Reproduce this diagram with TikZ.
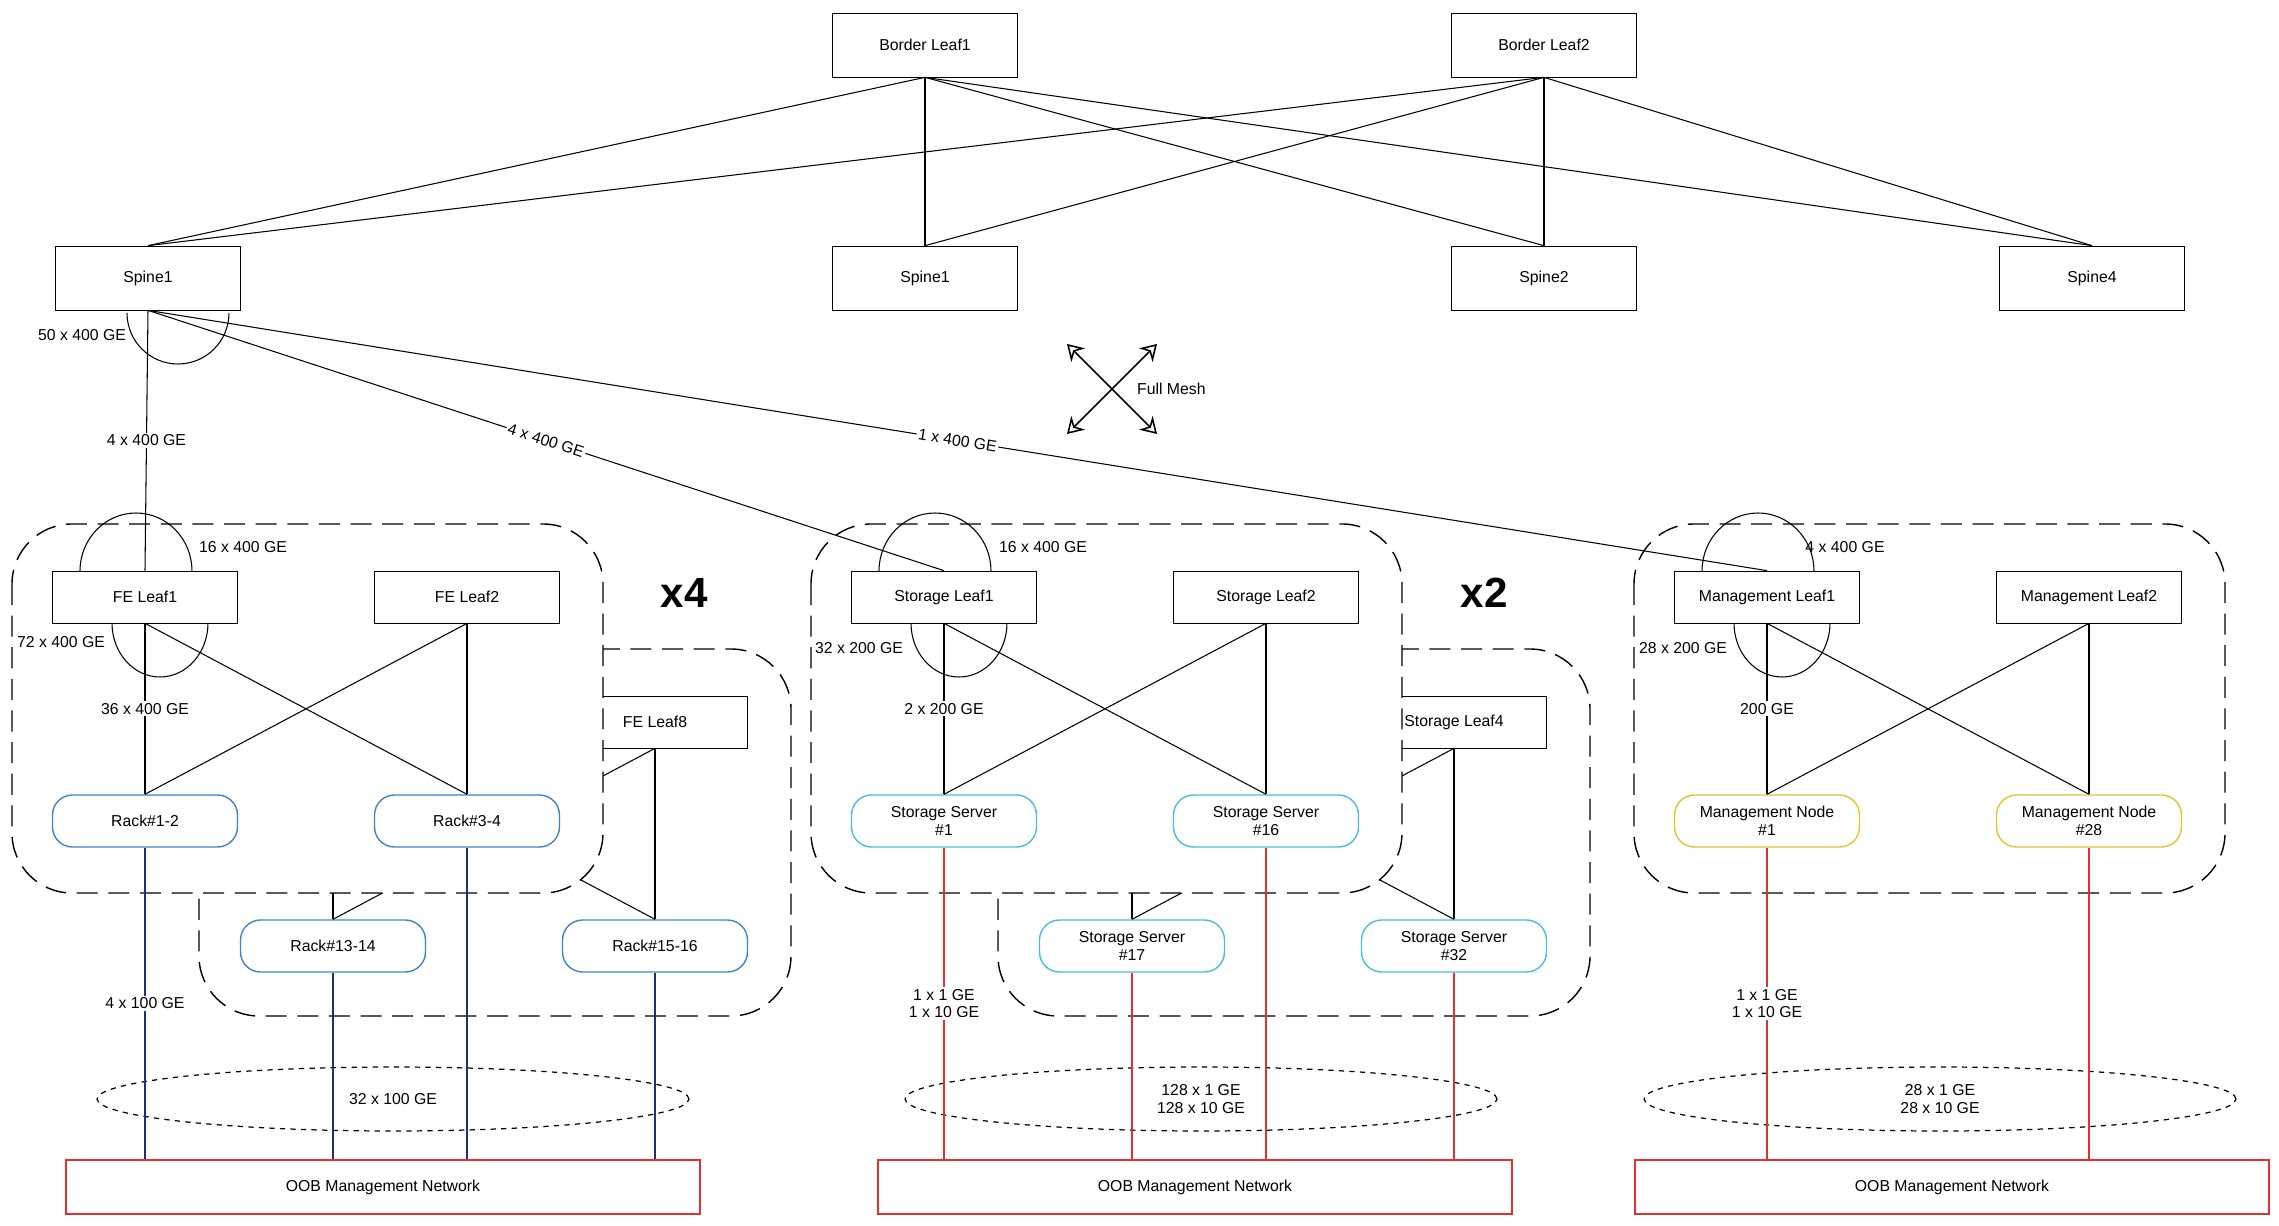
\documentclass[tikz,border=0pt]{standalone}
\usepackage{fontspec}
\setmainfont{Liberation Sans}
\usetikzlibrary{shapes,arrows.meta,positioning,calc}
\definecolor{rackblue}{RGB}{61,133,198}
\definecolor{storcyan}{RGB}{72,190,220}
\definecolor{mgmtyellow}{RGB}{230,194,50}
\definecolor{oobred}{RGB}{224,48,48}
\definecolor{navy}{RGB}{30,50,110}
\tikzset{
  switch/.style={draw,rectangle,minimum width=3.7cm,minimum height=1.04cm,font=\fontsize{9}{11}\selectfont},
  bigswitch/.style={switch,minimum height=1.28cm},
  host/.style={draw,rectangle,rounded corners=0.4cm,minimum width=3.7cm,minimum height=1.04cm,align=center,font=\fontsize{9}{10}\selectfont,line width=0.8pt},
  rack/.style={host,draw=rackblue},
  stor/.style={host,draw=storcyan},
  mgmt/.style={host,draw=mgmtyellow},
  oob/.style={draw=oobred,rectangle,minimum width=12.68cm,minimum height=1.08cm,font=\fontsize{9}{11}\selectfont,line width=0.8pt},
  group/.style={draw,dashed,dash pattern=on 12pt off 6pt,rounded corners=1.2cm,line width=0.8pt},
  lbl/.style={font=\fontsize{9}{10}\selectfont,align=center,inner sep=1pt,text=black},
  onl/.style={lbl,fill=white},
  mult/.style={font=\fontsize{24}{28}\selectfont\bfseries},
  link/.style={line width=0.6pt},
  blue link/.style={navy,line width=0.7pt},
  red link/.style={oobred,line width=0.7pt},
}
\begin{document}
\begin{tikzpicture}[x=0.02cm,y=-0.02cm]
\useasboundingbox (0,0) rectangle (2279,1226);

% Border and spine layer
\node[bigswitch] (bl1) at (925,45) {Border Leaf1};
\node[bigswitch] (bl2) at (1544,45) {Border Leaf2};
\node[bigswitch] (sp1) at (148,278) {Spine1};
\node[bigswitch] (sp1b) at (925,278) {Spine1};
\node[bigswitch] (sp2) at (1544,278) {Spine2};
\node[bigswitch] (sp4) at (2092,278) {Spine4};
\foreach \b in {bl1,bl2}
  \foreach \s in {sp1,sp1b,sp2,sp4}
    \draw[link] (\b.south) -- (\s.north);
\draw[link] (127,313) arc[start angle=180,end angle=360,x radius=1.02cm,y radius=1.02cm];
\node[lbl] at (82,335) {50 x 400 GE};

% Full mesh
\coordinate (m1) at (1067,344);
\coordinate (m2) at (1157,434);
\coordinate (m3) at (1157,344);
\coordinate (m4) at (1067,434);
\draw[line width=0.9pt,{Stealth[open,length=9pt,width=11pt]}-{Stealth[open,length=9pt,width=11pt]}] (m1) -- (m2);
\draw[line width=0.9pt,{Stealth[open,length=9pt,width=11pt]}-{Stealth[open,length=9pt,width=11pt]}] (m3) -- (m4);
\node[lbl,anchor=west] at (1135,389) {Full Mesh};

% FE group (back copy)
\draw[group] (199,649) rectangle (791,1016);
\node[switch] (fe7) at (333,722) {FE Leaf7};
\node[switch] (fe8) at (655,722) {FE Leaf8};
\node[rack] (r13) at (333,946) {Rack\#13-14};
\node[rack] (r15) at (655,946) {Rack\#15-16};
\foreach \l in {fe7,fe8}
  \foreach \r in {r13,r15}
    \draw[link] (\l.south) -- (\r.north);

% Storage group (back copy)
\draw[group] (998,649) rectangle (1590,1016);
\node[switch] (st3) at (1132,722) {Storage Leaf3};
\node[switch] (st4) at (1454,722) {Storage Leaf4};
\node[stor] (ss17) at (1132,946) {Storage Server\\\#17};
\node[stor] (ss32) at (1454,946) {Storage Server\\\#32};
\foreach \l in {st3,st4}
  \foreach \r in {ss17,ss32}
    \draw[link] (\l.south) -- (\r.north);

% front group frames
\draw[group,fill=white] (12,524) rectangle (603,893);
\draw[group,fill=white] (811,524) rectangle (1402,893);
\draw[group,fill=white] (1634,524) rectangle (2225,893);

% FE group
\node[switch] (fe1) at (145,597) {FE Leaf1};
\node[switch] (fe2) at (467,597) {FE Leaf2};
\node[rack] (r1) at (145,821) {Rack\#1-2};
\node[rack] (r3) at (467,821) {Rack\#3-4};
\draw[link] (fe1.south) -- node[onl] {36 x 400 GE} (r1.north);
\draw[link] (fe1.south) -- (r3.north);
\draw[link] (fe2.south) -- (r1.north);
\draw[link] (fe2.south) -- (r3.north);
\draw[link] (80,571) arc[start angle=180,end angle=0,x radius=1.12cm,y radius=1.16cm];
\draw[link] (112,623) arc[start angle=180,end angle=360,x radius=0.96cm,y radius=1.08cm];
\node[lbl] at (243,547) {16 x 400 GE};
\node[lbl] at (61,642) {72 x 400 GE};
\node[mult] at (684,593) {x4};

% Storage group
\node[switch] (st1) at (944,597) {Storage Leaf1};
\node[switch] (st2) at (1266,597) {Storage Leaf2};
\node[stor] (ss1) at (944,821) {Storage Server\\\#1};
\node[stor] (ss16) at (1266,821) {Storage Server\\\#16};
\draw[link] (st1.south) -- node[onl] {2 x 200 GE} (ss1.north);
\draw[link] (st1.south) -- (ss16.north);
\draw[link] (st2.south) -- (ss1.north);
\draw[link] (st2.south) -- (ss16.north);
\draw[link] (879,571) arc[start angle=180,end angle=0,x radius=1.12cm,y radius=1.16cm];
\draw[link] (911,623) arc[start angle=180,end angle=360,x radius=0.96cm,y radius=1.08cm];
\node[lbl] at (1043,547) {16 x 400 GE};
\node[lbl] at (859,648) {32 x 200 GE};
\node[mult] at (1484,593) {x2};

% Management group
\node[switch] (ml1) at (1767,597) {Management Leaf1};
\node[switch] (ml2) at (2089,597) {Management Leaf2};
\node[mgmt] (mn1) at (1767,821) {Management Node\\\#1};
\node[mgmt] (mn28) at (2089,821) {Management Node\\\#28};
\draw[link] (ml1.south) -- node[onl] {200 GE} (mn1.north);
\draw[link] (ml1.south) -- (mn28.north);
\draw[link] (ml2.south) -- (mn1.north);
\draw[link] (ml2.south) -- (mn28.north);
\draw[link] (1702,571) arc[start angle=180,end angle=0,x radius=1.12cm,y radius=1.16cm];
\draw[link] (1734,623) arc[start angle=180,end angle=360,x radius=0.96cm,y radius=1.08cm];
\node[lbl] at (1845,547) {4 x 400 GE};
\node[lbl] at (1683,648) {28 x 200 GE};

% Spine uplinks
\draw[link] (sp1.south) -- node[onl] {4 x 400 GE} (fe1.north);
\draw[link] (sp1.south) -- node[onl,sloped] {4 x 400 GE} (st1.north);
\draw[link] (sp1.south) -- node[onl,sloped] {1 x 400 GE} (ml1.north);

% OOB networks
\node[oob] (oob1) at (383,1187) {OOB Management Network};
\node[oob] (oob2) at (1195,1187) {OOB Management Network};
\node[oob] (oob3) at (1952,1187) {OOB Management Network};
\draw[dashed,line width=0.7pt] (393,1099) ellipse[x radius=5.92cm,y radius=0.64cm];
\draw[dashed,line width=0.7pt] (1201,1099) ellipse[x radius=5.92cm,y radius=0.64cm];
\draw[dashed,line width=0.7pt] (1940,1099) ellipse[x radius=5.92cm,y radius=0.64cm];
\draw[blue link] (r1.south) -- node[onl] {4 x 100 GE} (r1.south |- oob1.north);
\foreach \r in {r3,r13,r15}
  \draw[blue link] (\r.south) -- (\r.south |- oob1.north);
\draw[red link] (ss1.south) -- node[onl] {1 x 1 GE\\1 x 10 GE} (ss1.south |- oob2.north);
\foreach \r in {ss16,ss17,ss32}
  \draw[red link] (\r.south) -- (\r.south |- oob2.north);
\draw[red link] (mn1.south) -- node[onl] {1 x 1 GE\\1 x 10 GE} (mn1.south |- oob3.north);
\draw[red link] (mn28.south) -- (mn28.south |- oob3.north);
\node[onl] at (393,1099) {32 x 100 GE};
\node[onl] at (1201,1099) {128 x 1 GE\\128 x 10 GE};
\node[onl] at (1940,1099) {28 x 1 GE\\28 x 10 GE};
\end{tikzpicture}
\end{document}
